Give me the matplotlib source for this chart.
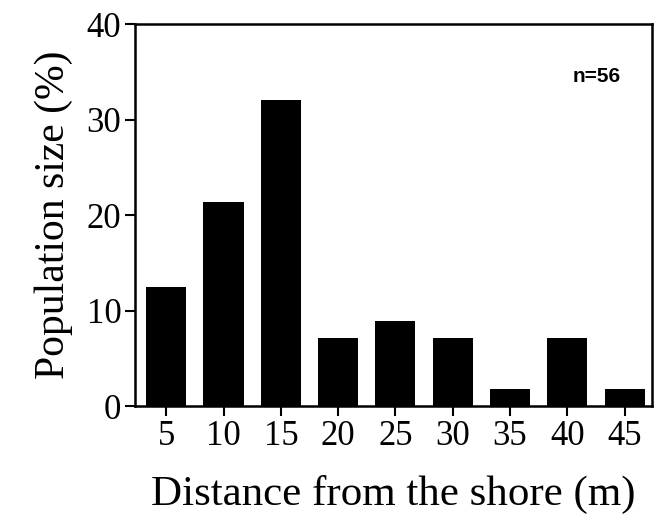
import matplotlib
matplotlib.use("Agg")
import matplotlib.pyplot as plt

# distance classes (m) and share of the population (%), n = 56
distance = [5, 10, 15, 20, 25, 30, 35, 40, 45]
population = [12.5, 21.4, 32.1, 7.1, 8.9, 7.1, 1.8, 7.1, 1.8]
y_ticks = [0, 10, 20, 30, 40]


def main():
    plt.rcParams['font.family'] = ['Liberation Serif', 'DejaVu Serif']

    fig = plt.figure(figsize=(6.6, 5.24), dpi=100)
    ax = fig.add_axes([0.205, 0.225, 0.783, 0.729])

    ax.bar(distance, population, width=3.5, color='black')

    ax.set_xlim(2.3, 47.4)
    ax.set_ylim(0, 40)
    ax.set_xticks(distance)
    ax.set_yticks(y_ticks)

    for side in ax.spines.values():
        side.set_linewidth(1.8)

    ax.tick_params(direction='out', length=7, width=1.5, labelsize=25, pad=3)

    ax.set_xlabel('Distance from the shore (m)', fontsize=31, labelpad=16)
    ax.set_ylabel('Population size (%)', fontsize=30, labelpad=10)

    ax.text(0.94, 0.864, 'n=56', transform=ax.transAxes, ha='right', va='center',
            fontsize=15, fontweight='bold', family='Liberation Sans')

    fig.savefig('out.png', dpi=100)


if __name__ == '__main__':
    main()
